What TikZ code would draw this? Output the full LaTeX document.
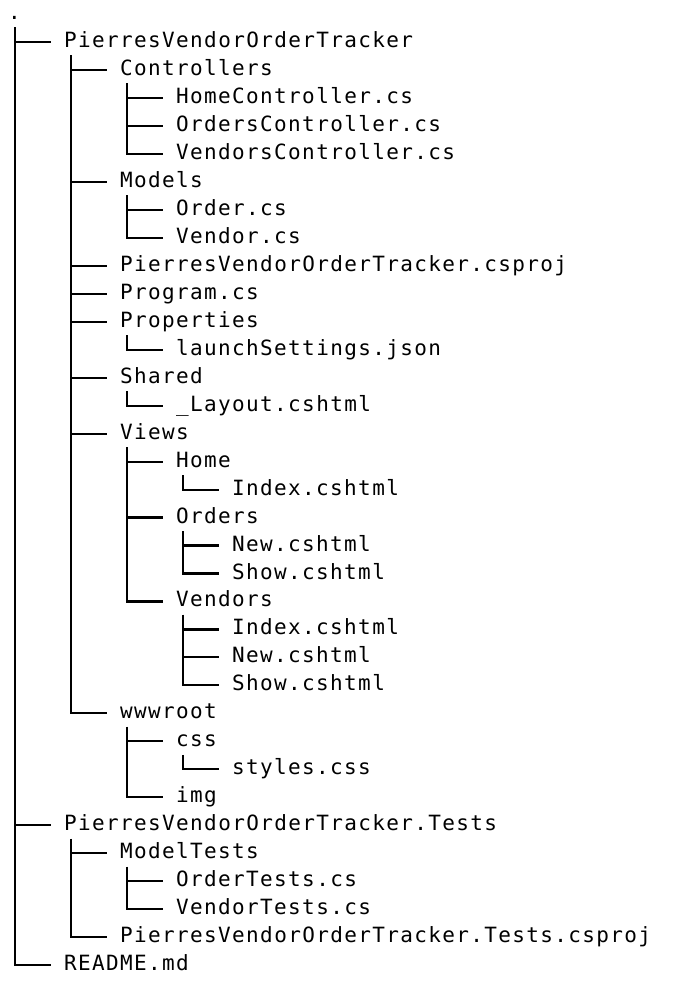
\documentclass[tikz,border=0pt]{standalone}
\usepackage{fontspec}
\newfontfamily\treefont[LetterSpace=6.5]{DejaVu Sans Mono}
\usetikzlibrary{positioning}

\tikzset{
  entry/.style={anchor=base west, inner sep=0pt, text=black,
                font={\fontsize{21pt}{21pt}\treefont}},
  branch/.style={draw=black, line width=2.1pt}
}

\begin{document}
\begin{tikzpicture}[x=1pt, y=-1pt]
  \useasboundingbox (0,0) rectangle (674,996);
  \begin{scope}[y=-27.98pt, yshift=-19.4pt]
    \node[entry] (root)     at (8,0)    {.};
    \node[entry] (pvot)     at (64,1)   {PierresVendorOrderTracker};
    \node[entry] (ctrl)     at (120,2)  {Controllers};
    \node[entry] (homec)    at (176,3)  {HomeController.cs};
    \node[entry] (ordc)     at (176,4)  {OrdersController.cs};
    \node[entry] (vendc)    at (176,5)  {VendorsController.cs};
    \node[entry] (models)   at (120,6)  {Models};
    \node[entry] (order)    at (176,7)  {Order.cs};
    \node[entry] (vendor)   at (176,8)  {Vendor.cs};
    \node[entry] (csproj)   at (120,9)  {PierresVendorOrderTracker.csproj};
    \node[entry] (program)  at (120,10) {Program.cs};
    \node[entry] (props)    at (120,11) {Properties};
    \node[entry] (launch)   at (176,12) {launchSettings.json};
    \node[entry] (shared)   at (120,13) {Shared};
    \node[entry] (layout)   at (176,14) {\_Layout.cshtml};
    \node[entry] (views)    at (120,15) {Views};
    \node[entry] (vhome)    at (176,16) {Home};
    \node[entry] (vhindex)  at (232,17) {Index.cshtml};
    \node[entry] (vorders)  at (176,18) {Orders};
    \node[entry] (vonew)    at (232,19) {New.cshtml};
    \node[entry] (voshow)   at (232,20) {Show.cshtml};
    \node[entry] (vvendors) at (176,21) {Vendors};
    \node[entry] (vvindex)  at (232,22) {Index.cshtml};
    \node[entry] (vvnew)    at (232,23) {New.cshtml};
    \node[entry] (vvshow)   at (232,24) {Show.cshtml};
    \node[entry] (wwwroot)  at (120,25) {wwwroot};
    \node[entry] (css)      at (176,26) {css};
    \node[entry] (styles)   at (232,27) {styles.css};
    \node[entry] (img)      at (176,28) {img};
    \node[entry] (tests)    at (64,29)  {PierresVendorOrderTracker.Tests};
    \node[entry] (mtests)   at (120,30) {ModelTests};
    \node[entry] (otests)   at (176,31) {OrderTests.cs};
    \node[entry] (vtests)   at (176,32) {VendorTests.cs};
    \node[entry] (tcsproj)  at (120,33) {PierresVendorOrderTracker.Tests.csproj};
    \node[entry] (readme)   at (64,34)  {README.md};
  \end{scope}

  % tree lines: down from the parent, across to the child
  \foreach \up/\dn in {root/pvot, pvot/ctrl, ctrl/homec, ctrl/ordc, ctrl/vendc,
      pvot/models, models/order, models/vendor, pvot/csproj, pvot/program,
      pvot/props, props/launch, pvot/shared, shared/layout, pvot/views,
      views/vhome, vhome/vhindex, views/vorders, vorders/vonew, vorders/voshow,
      views/vvendors, vvendors/vvindex, vvendors/vvnew, vvendors/vvshow,
      pvot/wwwroot, wwwroot/css, css/styles, wwwroot/img, root/tests,
      tests/mtests, mtests/otests, mtests/vtests, tests/tcsproj, root/readme}
    \draw[branch] ([shift={(7pt,-8pt)}]\up.base west)
      |- ([shift={(-13pt,5.5pt)}]\dn.base west);
\end{tikzpicture}
\end{document}
